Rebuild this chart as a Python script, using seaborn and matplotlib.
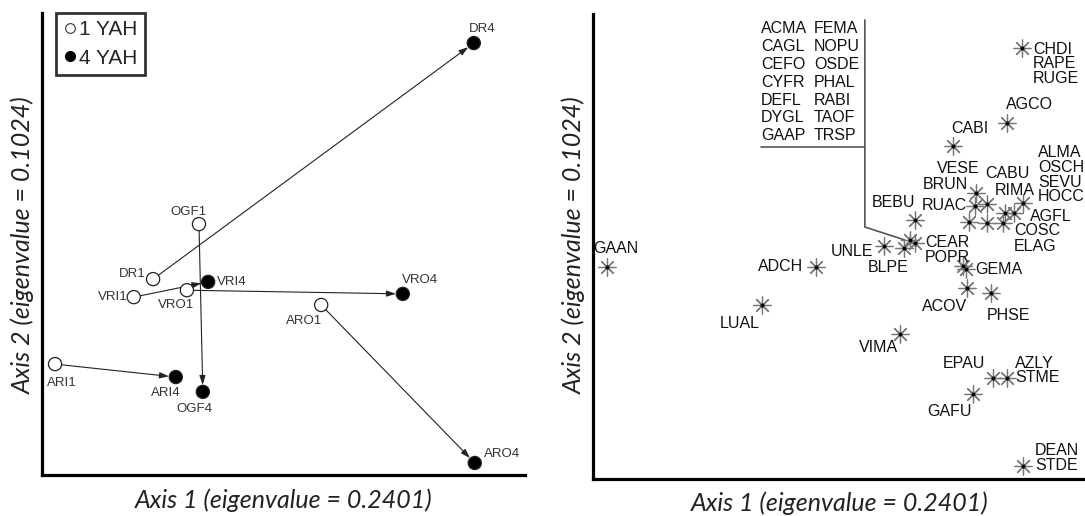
import numpy as np
import pandas as pd
import matplotlib
matplotlib.use('Agg')
from matplotlib import pyplot as plt
from matplotlib.lines import Line2D
import seaborn as sns

# site scores at 1 and 4 years after harvest (left panel)
sites = ['DR', 'OGF', 'VRI', 'VRO', 'ARO', 'ARI']
yah1_ax1 = [23.0, 32.5, 19.0, 30.0, 57.8, 2.7]
yah1_ax2 = [42.4, 54.3, 38.5, 40.0, 36.8, 24.0]
yah4_ax1 = [89.4, 33.3, 34.4, 74.7, 89.6, 27.7]
yah4_ax2 = [93.5, 18.0, 41.8, 39.2, 2.6, 21.2]

# species scores (right panel)
species = ['GAAN', 'ADCH', 'LUAL', 'UNLE', 'BLPE', 'GROUP', 'CEAR', 'BEBU',
           'POPR', 'GEMA', 'ACOV', 'PHSE', 'VIMA', 'EPAU', 'AZLY\nSTME',
           'GAFU', 'DEAN\nSTDE', 'CABI', 'AGCO', 'CHDI\nRAPE\nRUGE',
           'VESE', 'RUAC', 'CABU', 'ALMA\nOSCH\nSEVU\nHOCC', 'RIMA',
           'AGFL', 'BRUN', 'ELAG', 'COSC']
sp_ax1 = [2.8, 45.3, 34.3, 59.1, 63.2, 64.4, 65.4, 65.4,
          75.2, 75.8, 76.0, 80.9, 62.4, 81.3, 84.1,
          77.2, 87.4, 73.2, 84.1, 87.2,
          77.8, 77.6, 80.1, 87.4, 83.7,
          85.6, 76.4, 80.1, 83.3]
sp_ax2 = [45.6, 45.6, 37.4, 50.1, 49.7, 51.4, 50.8, 55.7,
          45.8, 45.2, 41.1, 40.0, 31.2, 21.7, 21.7,
          18.3, 2.8, 71.6, 76.6, 92.7,
          61.5, 58.7, 59.1, 59.4, 57.2,
          57.2, 55.3, 55.1, 55.1]

# species sharing the same score (bracketed list)
group_left = ['ACMA', 'CAGL', 'CEFO', 'CYFR', 'DEFL', 'DYGL', 'GAAP']
group_right = ['FEMA', 'NOPU', 'OSDE', 'PHAL', 'RABI', 'TAOF', 'TRSP']

# label placement in pixels relative to the point (dx, dy, ha)
site_lab = {
    'DR1': (-7, 5, 'right'), 'DR4': (8, 14, 'center'),
    'OGF1': (-11, 12, 'center'), 'OGF4': (-8, -17, 'center'),
    'VRI1': (-6, 0, 'right'), 'VRI4': (9, 0, 'left'),
    'VRO1': (-11, -15, 'center'), 'VRO4': (17, 14, 'center'),
    'ARO1': (-17, -16, 'center'), 'ARO4': (9, 9, 'left'),
    'ARI1': (7, -19, 'center'), 'ARI4': (-10, -16, 'center'),
}
sp_lab = {
    'GAAN': (9, 18, 'center'), 'ADCH': (-13, 0, 'right'),
    'LUAL': (-22, -18, 'center'), 'UNLE': (-11, -5, 'right'),
    'BLPE': (-16, -20, 'center'), 'CEAR': (10, 0, 'left'),
    'BEBU': (-21, 17, 'center'), 'POPR': (-38, 9, 'left'),
    'GEMA': (9, -1, 'left'), 'ACOV': (-22, -19, 'center'),
    'PHSE': (17, -22, 'center'), 'VIMA': (-22, -14, 'center'),
    'EPAU': (-29, 15, 'center'), 'AZLY\nSTME': (8, 7.5, 'left'),
    'GAFU': (-23, -18, 'center'), 'DEAN\nSTDE': (12, 8, 'left'),
    'CABI': (17, 18, 'center'), 'AGCO': (23, 18, 'center'),
    'CHDI\nRAPE\nRUGE': (11, -16, 'left'), 'VESE': (-18, 25, 'center'),
    'RUAC': (-30, 1, 'center'), 'CABU': (20, 31, 'center'),
    'ALMA\nOSCH\nSEVU\nHOCC': (15, 28, 'left'), 'RIMA': (10, 23, 'center'),
    'AGFL': (16, -3, 'left'), 'BRUN': (-24, 37, 'center'),
    'ELAG': (27, -24, 'left'), 'COSC': (11, -8, 'left'),
}

sns.set_style('white')
plt.rcParams['font.family'] = ['Liberation Sans', 'DejaVu Sans']

df_sites = pd.DataFrame({
    'site': [s + '1' for s in sites] + [s + '4' for s in sites],
    'ax1': yah1_ax1 + yah4_ax1,
    'ax2': yah1_ax2 + yah4_ax2,
    'stage': ['1 YAH'] * len(sites) + ['4 YAH'] * len(sites),
})
df_sp = pd.DataFrame({'species': species, 'ax1': sp_ax1, 'ax2': sp_ax2})

fig = plt.figure(figsize=(10.85, 5.16), dpi=100)
ax1 = fig.add_axes([42 / 1085, 41 / 516, 483 / 1085, 462 / 516])
ax2 = fig.add_axes([593 / 1085, 37 / 516, 500 / 1085, 465 / 516])

# ---- left panel: sites ----
for s, x0, y0, x1, y1 in zip(sites, yah1_ax1, yah1_ax2, yah4_ax1, yah4_ax2):
    ax1.annotate('', xy=(x1, y1), xytext=(x0, y0),
                 arrowprops=dict(arrowstyle='-|>,head_length=0.55,head_width=0.18',
                                 color='#222222', lw=0.8, shrinkA=4.5, shrinkB=5))
sns.scatterplot(data=df_sites, x='ax1', y='ax2', hue='stage',
                palette={'1 YAH': 'white', '4 YAH': 'black'},
                edgecolor='#222222', linewidth=0.9, s=90, legend=False,
                ax=ax1, zorder=3)
for _, r in df_sites.iterrows():
    dx, dy, ha = site_lab[r['site']]
    ax1.annotate(r['site'], (r['ax1'], r['ax2']), xytext=(dx, dy),
                 textcoords='offset pixels', ha=ha, va='center',
                 fontsize=9.5, color='#333333')

handles = [Line2D([], [], marker='o', ls='none', mfc='white', mec='#333333',
                  mew=0.8, ms=7),
           Line2D([], [], marker='o', ls='none', mfc='black', mec='black',
                  ms=7)]
leg = ax1.legend(handles, ['1 YAH', '4 YAH'], loc='upper left',
                 bbox_to_anchor=(14 / 483, 1.0), borderaxespad=0,
                 frameon=True, fancybox=False, fontsize=15,
                 handlelength=0.6, handletextpad=0.15, borderpad=0.35,
                 labelspacing=0.45)
leg.get_frame().set_edgecolor('black')
leg.get_frame().set_linewidth(2)

ax1.set_xlim(0, 100)
ax1.set_ylim(0, 100)

# ---- right panel: species ----
sns.scatterplot(data=df_sp, x='ax1', y='ax2', marker=(8, 2, 0), s=150,
                color='#777777', linewidth=0.9, legend=False, ax=ax2, zorder=3)
ax2.scatter(sp_ax1, sp_ax2, s=3, color='black', zorder=4)
for _, r in df_sp.iterrows():
    if r['species'] not in sp_lab:
        continue
    dx, dy, ha = sp_lab[r['species']]
    ax2.annotate(r['species'], (r['ax1'], r['ax2']), xytext=(dx, dy),
                 textcoords='offset pixels', ha=ha, va='center',
                 fontsize=11.5, color='#111111', linespacing=0.98)

ax2.set_xlim(0, 500 / 4.92)
ax2.set_ylim(0, 100)

# bracketed species list pointing to the shared score
gi = species.index('GROUP')
gx, gy = sp_ax1[gi], sp_ax2[gi]
for i, (a, b) in enumerate(zip(group_left, group_right)):
    for name, dx in ((a, -149), (b, -96)):
        ax2.annotate(name, (gx, gy), xytext=(dx, 211 - 17.8 * i),
                     textcoords='offset pixels', ha='left', va='center',
                     fontsize=11.5, color='#111111')
fig.canvas.draw()
px, py = ax2.transData.transform((gx, gy))
bracket = [(-45, 220), (-45, 13), (-5, 0)]
ax2.plot([px + d[0] for d in bracket], [py + d[1] for d in bracket],
         transform=None, color='#555555', lw=1.2)
ax2.plot([px - 149, px - 45], [py + 93, py + 93], transform=None,
         color='#555555', lw=1.2)

for ax in (ax1, ax2):
    sns.despine(ax=ax)
    ax.set_xticks([])
    ax.set_yticks([])
    ax.set_xlabel('')
    ax.set_ylabel('')
    for side in ('left', 'bottom'):
        ax.spines[side].set_linewidth(2.3)
        ax.spines[side].set_color('black')

lab_font = dict(family=['Lato', 'DejaVu Sans'], style='italic', fontsize=18,
                color='#222222')
fig.text(284 / 1085, 1 - 500 / 516, 'Axis 1 (eigenvalue = 0.2401)',
         ha='center', va='center', **lab_font)
fig.text(840 / 1085, 1 - 503 / 516, 'Axis 1 (eigenvalue = 0.2401)',
         ha='center', va='center', **lab_font)
fig.text(23 / 1085, 1 - 245 / 516, 'Axis 2 (eigenvalue = 0.1024)',
         ha='center', va='center', rotation=90, **lab_font)
fig.text(574 / 1085, 1 - 245 / 516, 'Axis 2 (eigenvalue = 0.1024)',
         ha='center', va='center', rotation=90, **lab_font)

fig.savefig('out.png', dpi=100)
